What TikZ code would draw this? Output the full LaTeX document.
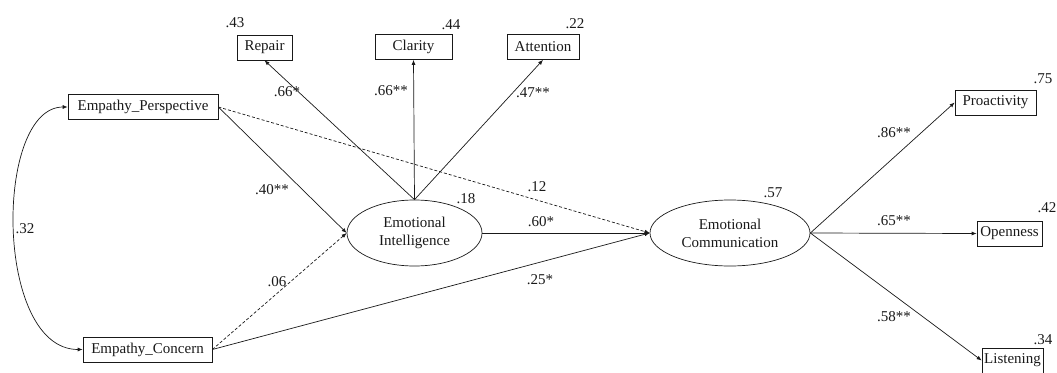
\documentclass[tikz,border=0pt]{standalone}
\usepackage{fontspec}
\setmainfont{Liberation Serif}
\usetikzlibrary{shapes.geometric,arrows.meta}
\tikzset{
  obs/.style={draw, rectangle, minimum height=25pt, inner sep=0pt, line width=0.7pt},
  lat/.style={draw, ellipse, minimum height=66pt, inner sep=0pt, align=center, line width=0.7pt},
  arr/.style={-{Latex[length=5pt,width=4pt]}, line width=0.7pt},
  coef/.style={inner sep=0pt},
}
\begin{document}
\begin{tikzpicture}[x=1pt, y=-1pt, font=\fontsize{15}{18}\selectfont, color=black!90]
    \useasboundingbox (0,0) rectangle (1057,372);

    \node[obs, minimum width=55pt] (repair) at (264.5,47.5) {Repair};
    \node[obs, minimum width=77pt] (clarity) at (413.5,47) {Clarity};
    \node[obs, minimum width=72pt] (attention) at (543,47) {Attention};
    \node[obs, minimum width=150pt] (ep) at (143,107) {Empathy\_Perspective};
    \node[obs, minimum width=129pt] (ec) at (147.5,349.5) {Empathy\_Concern};
    \node[lat, minimum width=135pt] (ei) at (414.5,233) {Emotional\\Intelligence};
    \node[lat, minimum width=160pt] (ecom) at (730,233) {Emotional\\Communication};
    \node[obs, minimum width=81pt] (proact) at (995.5,102.5) {Proactivity};
    \node[obs, minimum width=65pt] (open) at (1009.5,233.5) {Openness};
    \node[obs, minimum width=61pt] (listen) at (1012.5,360.5) {Listening};

    \draw[arr] (ei.north) -- (repair.south);
    \draw[arr] (ei.north) -- (clarity.south);
    \draw[arr] (ei.north) -- (attention.south);
    \draw[arr] (ep.east) -- (ei.west);
    \draw[arr, dash pattern=on 3pt off 2pt] (ep.east) -- (ecom.west);
    \draw[arr, dash pattern=on 3pt off 2pt] (ec.east) -- (ei.west);
    \draw[arr] (ec.east) -- (ecom.west);
    \draw[arr] (ei.east) -- (ecom.west);
    \draw[arr] (ecom.east) -- (proact.west);
    \draw[arr] (ecom.east) -- (open.west);
    \draw[arr] (ecom.east) -- (listen.west);
    \draw[{Latex[length=5pt,width=4pt]}-{Latex[length=5pt,width=4pt]}, line width=0.7pt]
        (ep.west) .. controls (-6,107) and (-6,349.5) .. (ec.west);

    \node[coef] (r2repair) at (235,23) {.43};
    \node[coef] (r2clarity) at (451,25) {.44};
    \node[coef] (r2attention) at (575,24) {.22};
    \node[coef] (r2ei) at (466,199) {.18};
    \node[coef] (r2ecom) at (773,193) {.57};
    \node[coef] (r2proact) at (1043,79) {.75};
    \node[coef] (r2open) at (1047,208) {.42};
    \node[coef] (r2listen) at (1043,340) {.34};

    \node[coef] (cov) at (25,229) {.32};
    \node[coef] (brepair) at (287,92) {.66*};
    \node[coef] (bclarity) at (391,91) {.66**};
    \node[coef] (battention) at (533,93) {.47**};
    \node[coef] (bepei) at (272,190) {.40**};
    \node[coef] (bepecom) at (537,187) {.12};
    \node[coef] (becei) at (277,282) {.06};
    \node[coef] (beiecom) at (541,222) {.60*};
    \node[coef] (bececom) at (540,280) {.25*};
    \node[coef] (bproact) at (894,133) {.86**};
    \node[coef] (bopen) at (894,221) {.65**};
    \node[coef] (blisten) at (894,317) {.58**};
\end{tikzpicture}
\end{document}
